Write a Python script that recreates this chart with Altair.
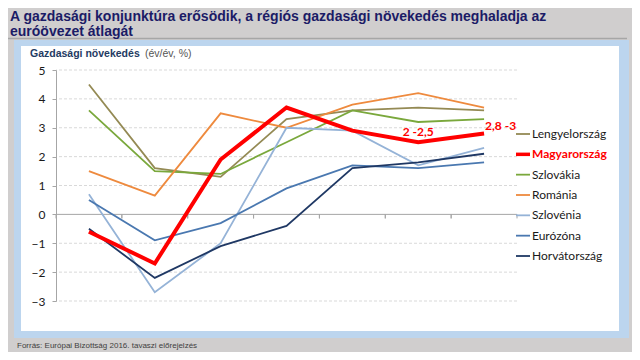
import altair as alt
import pandas as pd

# ---------------- data ----------------
cats = ["07-11", "2012", "2013", "2014", "2015", "2016", "2017"]
series_names = ["Lengyelország", "Magyarország", "Szlovákia", "Románia",
                "Szlovénia", "Eurózóna", "Horvátország"]
lengyel = [4.5, 1.6, 1.3, 3.3, 3.6, 3.7, 3.6]
magyar = [-0.6, -1.7, 1.9, 3.7, 2.9, 2.5, 2.8]
szlovakia = [3.6, 1.5, 1.4, 2.5, 3.6, 3.2, 3.3]
romania = [1.5, 0.65, 3.5, 3.0, 3.8, 4.2, 3.7]
szlovenia = [0.7, -2.7, -1.0, 3.0, 2.9, 1.7, 2.3]
eurozona = [0.5, -0.9, -0.3, 0.9, 1.7, 1.6, 1.8]
horvat = [-0.5, -2.2, -1.1, -0.4, 1.6, 1.8, 2.1]
y_ticks = [-3, -2, -1, 0, 1, 2, 3, 4, 5]
ann_cats = ["2016", "2017"]
ann_vals = [2.5, 2.8]
ann_text = ["2 -2,5", "2,8 -3"]

title_lines = ["A gazdasági konjunktúra erősödik, a régiós gazdasági növekedés meghaladja az",
               "euróövezet átlagát"]
ytitle_bold = "Gazdasági növekedés"
ytitle_rest = "(év/év, %)"
footer = "Forrás: Európai Bizottság 2016. tavaszi előrejelzés"

colors = ["#948a54", "#ff0000", "#7aa83c", "#ee8a3e", "#95b3d7", "#4a78b0", "#1f3864"]

all_vals = [lengyel, magyar, szlovakia, romania, szlovenia, eurozona, horvat]
rows = []
for name, vals in zip(series_names, all_vals):
    for c, v in zip(cats, vals):
        rows.append({"series": name, "cat": c, "val": v})
df = pd.DataFrame(rows)
df_other = df[df.series != "Magyarország"]
df_hu = df[df.series == "Magyarország"]
grid_df = pd.DataFrame({"v": y_ticks})
leg_df = pd.DataFrame({"series": series_names})
ann_df = pd.DataFrame({"cat": ann_cats, "val": ann_vals, "label": ann_text})
cat_df = pd.DataFrame({"cat": cats})
one = pd.DataFrame({"k": [0]})

W, H = 461, 231
xscale = alt.Scale(type="band", domain=cats, paddingInner=0, paddingOuter=0)
yscale = alt.Scale(domain=[-3, 5], nice=False, zero=False)
cscale = alt.Scale(domain=series_names, range=colors)

# ---------------- decoration ----------------
outer = alt.Chart(one).mark_rect(color="#bcd5ee").encode(
    x=alt.value(-42), x2=alt.value(573), y=alt.value(-30), y2=alt.value(268))
inner = alt.Chart(one).mark_rect(color="#ffffff").encode(
    x=alt.value(-35), x2=alt.value(563), y=alt.value(-24), y2=alt.value(261))
underline = alt.Chart(one).mark_rule(color="#a6a6a6", strokeWidth=1.5).encode(
    x=alt.value(-48), x2=alt.value(571), y=alt.value(-31.5))

title1 = alt.Chart(one).mark_text(
    text=title_lines[0], align="left", baseline="alphabetic", font="Liberation Sans",
    fontSize=14, fontWeight="bold", color="#1b1b66").encode(
    x=alt.value(-46), y=alt.value(-49))
title2 = alt.Chart(one).mark_text(
    text=title_lines[1], align="left", baseline="alphabetic", font="Liberation Sans",
    fontSize=14, fontWeight="bold", color="#1b1b66").encode(
    x=alt.value(-46), y=alt.value(-34.5))
yt1 = alt.Chart(one).mark_text(
    text=ytitle_bold, align="left", baseline="alphabetic", font="Liberation Sans",
    fontSize=10.5, fontWeight="bold", color="#1f3b63").encode(
    x=alt.value(-26), y=alt.value(-12.7))
yt2 = alt.Chart(one).mark_text(
    text=ytitle_rest, align="left", baseline="alphabetic", font="Liberation Sans",
    fontSize=10.5, color="#555555").encode(
    x=alt.value(89), y=alt.value(-12.7))
foot = alt.Chart(one).mark_text(
    text=footer, align="left", baseline="middle", font="Liberation Sans",
    fontSize=8, color="#404040").encode(
    x=alt.value(-39), y=alt.value(276))

# ---------------- grid & zero line ----------------
grid = alt.Chart(grid_df).mark_rule(color="#d9d9d9", strokeDash=[3, 2], strokeWidth=1).encode(
    y=alt.Y("v:Q", scale=yscale, axis=None)
).transform_filter("datum.v != 0")
zero = alt.Chart(grid_df).mark_rule(color="#a6a6a6", strokeWidth=1).encode(
    y=alt.Y("v:Q", scale=yscale, axis=None)
).transform_filter("datum.v == 0")
ticks0 = alt.Chart(cat_df).mark_rule(color="#a6a6a6").encode(
    x=alt.X("cat:N", scale=xscale, bandPosition=0, axis=None),
    y=alt.YDatum(0, scale=yscale, axis=None), y2=alt.Y2Datum(-0.14))
ticks1 = alt.Chart(cat_df).mark_rule(color="#a6a6a6").encode(
    x=alt.X("cat:N", scale=xscale, bandPosition=1, axis=None),
    y=alt.YDatum(0, scale=yscale, axis=None), y2=alt.Y2Datum(-0.14))

# ---------------- series ----------------
lines = alt.Chart(df_other).mark_line(strokeWidth=1.8).encode(
    x=alt.X("cat:N", scale=xscale, sort=cats, title=None,
            axis=alt.Axis(orient="bottom", labelAngle=0, domain=False, ticks=False, labelPadding=11,
                          labelFont="Lato", labelFontSize=12, labelColor="#1a1a1a", zindex=1)),
    y=alt.Y("val:Q", scale=yscale, title=None,
            axis=alt.Axis(orient="left", values=y_ticks, grid=False, domainColor="#a6a6a6",
                          tickColor="#a6a6a6", tickSize=4, labelPadding=7, labelFont="Lato",
                          labelFontSize=12, labelColor="#1a1a1a", zindex=1)),
    color=alt.Color("series:N", scale=cscale, legend=None),
    detail="series:N",
)
hu_line = alt.Chart(df_hu).mark_line(strokeWidth=4).encode(
    x=alt.X("cat:N", scale=xscale, sort=cats, axis=None),
    y=alt.Y("val:Q", scale=yscale, axis=None),
    color=alt.Color("series:N", scale=cscale, legend=None),
)

ann1 = alt.Chart(ann_df.iloc[[0]]).mark_text(
    align="center", baseline="alphabetic", dy=-6, font="Lato", fontSize=12,
    fontWeight="bold", color="#ff0000").encode(
    x=alt.X("cat:N", scale=xscale, axis=None),
    y=alt.Y("val:Q", scale=yscale, axis=None), text="label:N")
ann2 = alt.Chart(ann_df.iloc[[1]]).mark_text(
    align="left", baseline="alphabetic", dx=1, dy=-4, font="Lato", fontSize=12,
    fontWeight="bold", color="#ff0000").encode(
    x=alt.X("cat:N", scale=xscale, axis=None),
    y=alt.Y("val:Q", scale=yscale, axis=None), text="label:N")

# ---------------- legend ----------------
leg_y = alt.Y("series:N", sort=series_names, axis=None,
              scale=alt.Scale(type="point", domain=series_names, range=[64, 186], padding=0))
leg_lines = alt.Chart(leg_df).mark_rule().encode(
    x=alt.value(460), x2=alt.value(474), y=leg_y,
    color=alt.Color("series:N", scale=cscale, legend=None),
    strokeWidth=alt.condition("datum.series == 'Magyarország'", alt.value(3.5), alt.value(1.8)))
leg_text = alt.Chart(leg_df).mark_text(
    align="left", baseline="middle", font="Lato", fontSize=12, color="#1a1a1a").encode(
    x=alt.value(476), y=leg_y, text="series:N"
).transform_filter("datum.series != 'Magyarország'")
leg_text_hu = alt.Chart(leg_df).mark_text(
    align="left", baseline="middle", font="Lato", fontSize=12, fontWeight="bold",
    color="#ff0000").encode(
    x=alt.value(476), y=leg_y, text="series:N"
).transform_filter("datum.series == 'Magyarország'")

chart = alt.layer(
    outer, inner, underline, title1, title2, yt1, yt2, foot,
    grid, zero, ticks0, ticks1, lines, hu_line, ann1, ann2,
    leg_lines, leg_text, leg_text_hu
).resolve_scale(y="independent").properties(
    width=W, height=H,
    autosize=alt.AutoSizeParams(type="none"),
    padding={"left": 48, "top": 62, "right": 115, "bottom": 51},
    background="#d0cece",
).configure_view(stroke=None)

chart.save("out.html", embed_options={"renderer": "svg", "actions": False})
